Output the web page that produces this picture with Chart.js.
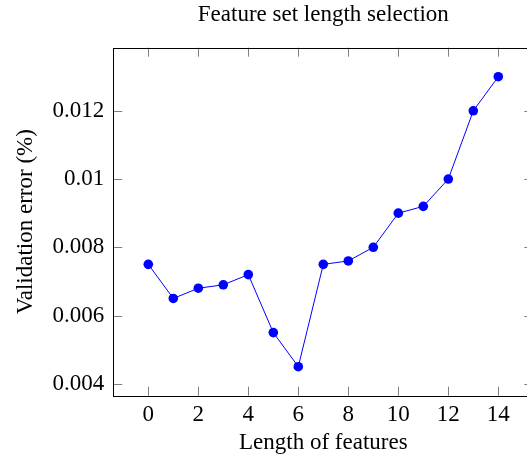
<!DOCTYPE html>
<html>
<head>
<meta charset="utf-8">
<script src="https://cdn.jsdelivr.net/npm/chart.js@4/dist/chart.umd.min.js"></script>
<style>
  html, body { margin: 0; padding: 0; background: #fff; overflow: hidden; }
  #wrap { width: 545px; height: 460px; }
</style>
</head>
<body>
<div id="wrap"><canvas id="c" width="545" height="460"></canvas></div>
<script>
// Validation error for each feature-set length
const featureLengths = [0, 1, 2, 3, 4, 5, 6, 7, 8, 9, 10, 11, 12, 13, 14];
const validationError = [0.0075, 0.0065, 0.0068, 0.0069, 0.0072, 0.0055, 0.0045, 0.0075, 0.0076, 0.0080, 0.0090, 0.0092, 0.0100, 0.0120, 0.0130];

// Axis ticks
const xTickValues = [0, 2, 4, 6, 8, 10, 12, 14];
const yTickValues = [0.004, 0.006, 0.008, 0.010, 0.012];
const yTickLabels = ['0.004', '0.006', '0.008', '0.01', '0.012'];

const serif = '"Liberation Serif", "Times New Roman", serif';
const blue = '#0000ff';
const fontSize = 23;

// Frame around the plot area with inward ticks on every side
const framePlugin = {
  id: 'frame',
  afterDatasetsDraw(chart) {
    const { ctx, chartArea: a, scales } = chart;
    const len = 9;
    ctx.save();
    ctx.strokeStyle = '#808080';
    ctx.lineWidth = 1;
    ctx.beginPath();
    scales.x.ticks.forEach(t => {
      const px = Math.round(scales.x.getPixelForValue(t.value)) + 0.5;
      ctx.moveTo(px, a.bottom); ctx.lineTo(px, a.bottom - len);
      ctx.moveTo(px, a.top); ctx.lineTo(px, a.top + len);
    });
    scales.y.ticks.forEach(t => {
      const py = Math.round(scales.y.getPixelForValue(t.value)) + 0.5;
      ctx.moveTo(a.left, py); ctx.lineTo(a.left + len, py);
      ctx.moveTo(a.right, py); ctx.lineTo(a.right - len, py);
    });
    ctx.stroke();
    ctx.strokeStyle = '#000';
    ctx.lineWidth = 1;
    ctx.strokeRect(Math.round(a.left) + 0.5, Math.round(a.top) + 0.5,
                   Math.round(a.right - a.left), Math.round(a.bottom - a.top));
    ctx.restore();
  }
};

new Chart(document.getElementById('c'), {
  type: 'line',
  data: {
    datasets: [{
      data: featureLengths.map((x, i) => ({ x: x, y: validationError[i] })),
      borderColor: blue,
      backgroundColor: blue,
      borderWidth: 1,
      pointRadius: 4.8,
      pointBackgroundColor: blue,
      pointBorderColor: blue,
      pointBorderWidth: 0,
      tension: 0
    }]
  },
  options: {
    responsive: false,
    animation: false,
    layout: { padding: { left: 0, right: 11.7, top: 0, bottom: 0 } },
    plugins: {
      legend: { display: false },
      tooltip: { enabled: false },
      title: {
        display: true,
        text: 'Feature set length selection',
        fullSize: false,
        color: '#000',
        font: { family: serif, size: fontSize, weight: 'normal', lineHeight: 1.2 },
        padding: { top: 1, bottom: 19.1 }
      }
    },
    scales: {
      x: {
        type: 'linear',
        min: -1.4,
        max: 15.4,
        afterBuildTicks(scale) { scale.ticks = xTickValues.map(v => ({ value: v })); },
        afterFit(scale) { scale.height = 64.3; },
        grid: { display: false, drawTicks: false },
        border: { display: false },
        ticks: {
          color: '#000',
          font: { family: serif, size: fontSize },
          padding: 5,
          maxRotation: 0,
          callback: v => String(v)
        },
        title: {
          display: true,
          text: 'Length of features',
          color: '#000',
          font: { family: serif, size: fontSize, lineHeight: 1.2 },
          padding: { top: 0, bottom: 3 }
        }
      },
      y: {
        type: 'linear',
        min: 0.00365,
        max: 0.01385,
        afterBuildTicks(scale) { scale.ticks = yTickValues.map(v => ({ value: v })); },
        afterFit(scale) { scale.width = 113.3; },
        grid: { display: false, drawTicks: false },
        border: { display: false },
        ticks: {
          color: '#000',
          font: { family: serif, size: fontSize },
          padding: 9,
          callback: (v, i) => yTickLabels[i]
        },
        title: {
          display: true,
          text: 'Validation error (%)',
          color: '#000',
          font: { family: serif, size: fontSize, lineHeight: 1.2 },
          padding: { top: 12, bottom: 0 }
        }
      }
    }
  },
  plugins: [framePlugin]
});
</script>
</body>
</html>
